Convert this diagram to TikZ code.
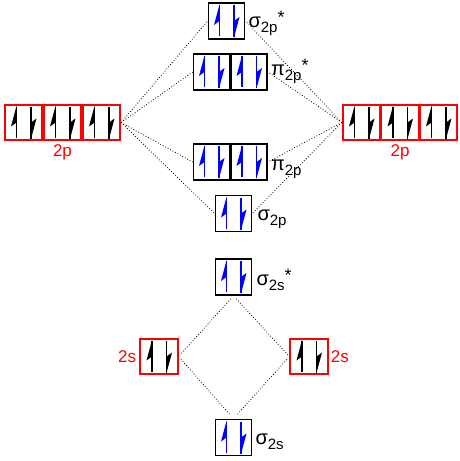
\documentclass[tikz,border=0pt]{standalone}
\usepackage{fontspec}
\setmainfont{Liberation Sans}
\usetikzlibrary{positioning}

\newcommand\orbname[3]{{\fontsize{20}{20}\selectfont #1}\raisebox{-5pt}{\fontsize{15}{15}\selectfont #2}\raisebox{4pt}{\fontsize{18}{18}\selectfont #3}}

\tikzset{
  spins/.style={path picture={
    \begin{scope}[shift={(path picture bounding box.center)},x=1pt,y=1pt,line width=1.1pt,#1]
      \draw (-7,-15) -- (-7,16);
      \fill (-7,16.5) -- (-12.5,-4) -- (-7,0) -- cycle;
      \draw (7.5,16) -- (7.5,-16);
      \fill (7.5,-16.5) -- (13,4) -- (7.5,0) -- cycle;
    \end{scope}}},
  mo/.style={draw, line width=1.7pt, minimum width=36pt, minimum height=36pt, inner sep=0pt, spins={blue}},
  ao/.style={draw=red, line width=1.7pt, minimum width=37.5pt, minimum height=35.5pt, inner sep=0pt, spins={black}},
  lbl/.style={inner sep=0pt, anchor=base west},
  aolbl/.style={inner sep=0pt, text=red, font=\fontsize{17}{17}\selectfont},
  corr/.style={dotted, line width=0.8pt}
}

\begin{document}
\begin{tikzpicture}[x=1pt,y=1pt]
	  \useasboundingbox (0,0) rectangle (459,-461);
	  % atomic orbitals
	  \node [ao] (l2p1) at (23.5,-122.5) {};
	  \node [ao] (l2p2) at (62.5,-122.5) {};
	  \node [ao] (l2p3) at (101.5,-122.5) {};
	  \node [ao] (r2p1) at (361.5,-122.5) {};
	  \node [ao] (r2p2) at (400,-122.5) {};
	  \node [ao] (r2p3) at (438.5,-122.5) {};
	  \node [ao] (l2s) at (159,-356.5) {};
	  \node [ao] (r2s) at (309,-356.5) {};
	  \node [aolbl, below=3pt of l2p2] (tl2p) {2p};
	  \node [aolbl, below=3pt of r2p2] (tr2p) {2p};
	  \node [aolbl, left=3pt of l2s] (tl2s) {2s};
	  \node [aolbl, right=2pt of r2s] (tr2s) {2s};
	  % molecular orbitals
	  \node [mo] (s2pa) at (226.5,-21) {};
	  \node [mo] (p2pa1) at (211.5,-72) {};
	  \node [mo] (p2pa2) at (249,-72) {};
	  \node [mo] (p2p1) at (211.5,-162) {};
	  \node [mo] (p2p2) at (249,-162) {};
	  \node [mo] (s2p) at (233.5,-213.5) {};
	  \node [mo] (s2sa) at (233.5,-277) {};
	  \node [mo] (s2s) at (233.5,-437.5) {};
	  \node [lbl] (ts2pa) at ([shift={(3pt,-6pt)}]s2pa.east) {\orbname{σ}{2p}{*}};
	  \node [lbl] (tp2pa) at ([shift={(3pt,-3pt)}]p2pa2.east) {\orbname{π}{2p}{*}};
	  \node [lbl] (tp2p) at ([shift={(3pt,-8pt)}]p2p2.east) {\orbname{π}{2p}{}};
	  \node [lbl] (ts2p) at ([shift={(5pt,-6.5pt)}]s2p.east) {\orbname{σ}{2p}{}};
	  \node [lbl] (ts2sa) at ([shift={(4pt,-8pt)}]s2sa.east) {\orbname{σ}{2s}{*}};
	  \node [lbl] (ts2s) at ([shift={(3pt,-6.5pt)}]s2s.east) {\orbname{σ}{2s}{}};
	  % correlation lines
	  \draw [corr] (l2p3.east) -- (s2pa.west);
	  \draw [corr] (l2p3.east) -- (p2pa1.west);
	  \draw [corr] (l2p3.east) -- (p2p1.west);
	  \draw [corr] (l2p3.east) -- (s2p.west);
	  \draw [corr] (r2p1.west) -- (s2pa.east);
	  \draw [corr] (r2p1.west) -- (p2pa2.east);
	  \draw [corr] (r2p1.west) -- (p2p2.east);
	  \draw [corr] (r2p1.west) -- (s2p.east);
	  \draw [corr, shorten <=4pt, shorten >=2pt] (s2sa.south) -- (l2s.east);
	  \draw [corr, shorten <=4pt, shorten >=2pt] (s2sa.south) -- (r2s.west);
	  \draw [corr, shorten <=6pt, shorten >=2pt] (s2s.north) -- (l2s.east);
	  \draw [corr, shorten <=6pt, shorten >=2pt] (s2s.north) -- (r2s.west);
	 \end{tikzpicture}
\end{document}
